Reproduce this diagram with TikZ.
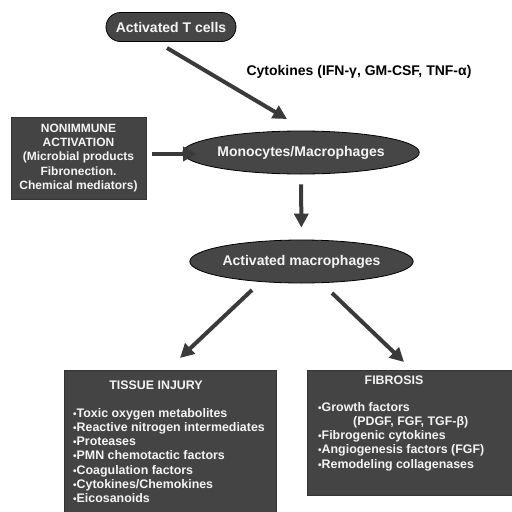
\documentclass[tikz,border=0pt]{standalone}
\usepackage{fontspec}
\setmainfont{Liberation Sans}
\usetikzlibrary{arrows.meta,shapes.geometric,shapes.misc}
\definecolor{cellfill}{HTML}{464646}
\definecolor{boxfill}{HTML}{444444}
\definecolor{arrowgray}{HTML}{3A3A3A}
\definecolor{lighttext}{HTML}{F4F4F4}
\newcommand{\itemdot}{{\fontsize{10}{10}\selectfont•}}
\tikzset{
  cellshape/.style={draw=black, line width=0.8pt, fill=cellfill, text=lighttext,
    font=\bfseries\fontsize{14}{16}\selectfont, inner sep=0pt},
  capsule/.style={cellshape, rounded rectangle, minimum width=130pt, minimum height=29pt},
  oval/.style={cellshape, ellipse, minimum width=202pt, minimum height=43pt},
  darkbox/.style={draw=black!80, line width=0.6pt, fill=boxfill, inner sep=0pt},
  boxtext/.style={text=lighttext, inner sep=0pt,
    font=\bfseries\fontsize{12.4}{14.2}\selectfont},
  bigarrow/.style={draw=arrowgray, line width=4pt,
    -{Triangle[length=14pt,width=14pt]}},
}
\begin{document}
\begin{tikzpicture}[x=1pt,y=-1pt]
\useasboundingbox (0,0) rectangle (512,512);
\clip (0,0) rectangle (512,512);

% cells
\node[capsule] (tcells) at (171,27) {Activated T cells};
\node[oval] (mono) at (301,152.5) {Monocytes/Macrophages};
\node[oval] (actmac) at (301.5,261.5) {Activated macrophages};

% label of the cytokine arrow
\node[font=\bfseries\fontsize{14}{16}\selectfont, inner sep=0pt] (cytolabel) at (359,72)
  {Cytokines (IFN-γ, GM-CSF, TNF-α)};

% nonimmune activation box
\node[darkbox, minimum width=135pt, minimum height=82pt] (nonimm) at (78.5,158) {};
\node[boxtext, align=center, font=\bfseries\fontsize{12}{14.3}\selectfont] (nonimmtext) at (nonimm.center)
  {NONIMMUNE\\ACTIVATION\\(Microbial products\\Fibronection.\\Chemical mediators)};

% tissue injury box
\node[darkbox, minimum width=212pt, minimum height=150pt] (tissue) at (170,445) {};
\node[boxtext] (tissuetitle) at (156,385) {TISSUE INJURY};
\node[boxtext, align=left, anchor=west] (tissuelist) at (73,455.5)
  {\itemdot Toxic oxygen metabolites\\
   \itemdot Reactive nitrogen intermediates\\
   \itemdot Proteases\\
   \itemdot PMN chemotactic factors\\
   \itemdot Coagulation factors\\
   \itemdot Cytokines/Chemokines\\
   \itemdot Eicosanoids};

% fibrosis box
\node[darkbox, minimum width=210pt, minimum height=125pt] (fibro) at (412,432.5) {};
\node[boxtext] (fibrotitle) at (394,380) {FIBROSIS};
\node[boxtext, align=left, anchor=west] (fibrolist) at (318,436.5)
  {\itemdot Growth factors\\
   \hspace*{35pt}(PDGF, FGF, TGF-β)\\
   \itemdot Fibrogenic cytokines\\
   \itemdot Angiogenesis factors (FGF)\\
   \itemdot Remodeling collagenases};

% arrow end points
\coordinate (tcells-out) at (167,48);
\coordinate (mono-in) at (287,119);
\coordinate (nonimm-out) at (152,154);
\coordinate (mono-left) at (197,154);
\coordinate (actmac-left) at (252,290);
\coordinate (tissue-in) at (180,358);
\coordinate (actmac-right) at (332,293);
\coordinate (fibro-in) at (404,362);

% connectors
\draw[bigarrow] (tcells-out) -- (mono-in);
\draw[bigarrow] (nonimm-out) -- (mono-left);
\draw[bigarrow, shorten <=10pt, shorten >=12pt] (mono.south) -- (actmac.north);
\draw[bigarrow] (actmac-left) -- (tissue-in);
\draw[bigarrow] (actmac-right) -- (fibro-in);
\end{tikzpicture}
\end{document}
